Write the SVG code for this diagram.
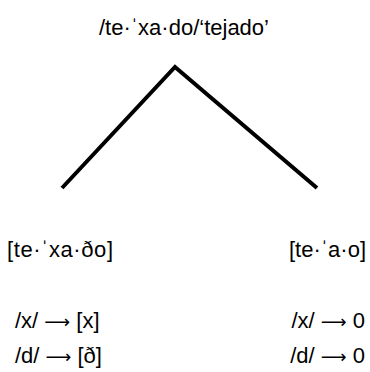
<svg xmlns="http://www.w3.org/2000/svg" width="370" height="372" viewBox="0 0 370 372">
<style>
text{font-family:"Liberation Sans",Arial,sans-serif;font-size:22px;fill:#000}
.a{font-family:"DejaVu Sans",sans-serif;font-size:18px}
.e{stroke:#000;stroke-width:4;fill:none;stroke-linejoin:miter}
</style>
<rect width="370" height="372" fill="#fff"/>
<g id="connectors">
<polyline class="e" points="62,188 175,67 317,188"/>
</g>
<g id="root"><text x="184" y="35" text-anchor="middle">/te·ˈxa·do/‘tejado’</text></g>
<g id="left"><text x="7" y="257" textLength="106">[te·ˈxa·ðo]</text>
<text x="15" y="328">/x/ <tspan class="a">⟶</tspan> [x]</text>
<text x="15" y="363">/d/ <tspan class="a">⟶</tspan> [ð]</text></g>
<g id="right"><text x="366" y="257" text-anchor="end">[te·ˈa·o]</text>
<text x="365" y="328" text-anchor="end">/x/ <tspan class="a">⟶</tspan> 0</text>
<text x="365" y="363" text-anchor="end">/d/ <tspan class="a">⟶</tspan> 0</text></g>
</svg>
